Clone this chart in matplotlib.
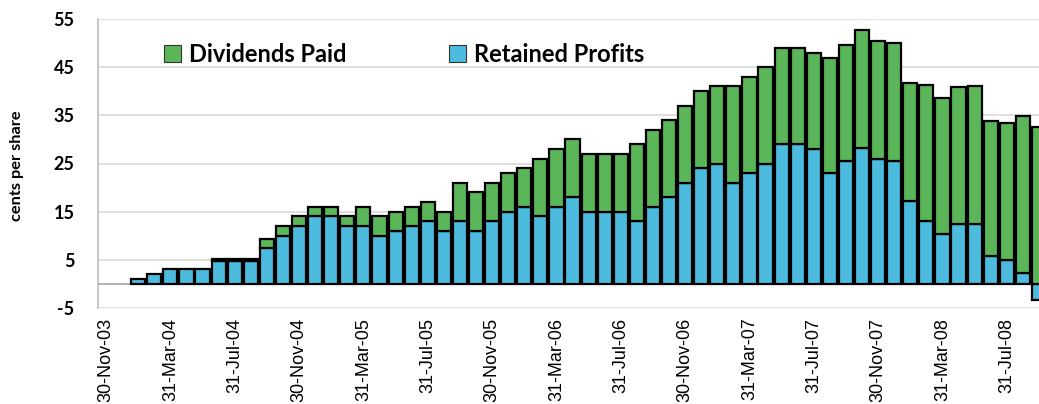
import matplotlib
matplotlib.use("Agg")
import matplotlib.pyplot as plt
from matplotlib.patches import Patch
import numpy as np

# Month-end categories, Nov-03 .. Sep-08
months = ["Nov-03", "Dec-03",
          "Jan-04", "Feb-04", "Mar-04", "Apr-04", "May-04", "Jun-04", "Jul-04", "Aug-04", "Sep-04", "Oct-04", "Nov-04", "Dec-04",
          "Jan-05", "Feb-05", "Mar-05", "Apr-05", "May-05", "Jun-05", "Jul-05", "Aug-05", "Sep-05", "Oct-05", "Nov-05", "Dec-05",
          "Jan-06", "Feb-06", "Mar-06", "Apr-06", "May-06", "Jun-06", "Jul-06", "Aug-06", "Sep-06", "Oct-06", "Nov-06", "Dec-06",
          "Jan-07", "Feb-07", "Mar-07", "Apr-07", "May-07", "Jun-07", "Jul-07", "Aug-07", "Sep-07", "Oct-07", "Nov-07", "Dec-07",
          "Jan-08", "Feb-08", "Mar-08", "Apr-08", "May-08", "Jun-08", "Jul-08", "Aug-08", "Sep-08"]

retained = [0, 0,
            1, 2, 3.2, 3.2, 3.2, 4.8, 4.8, 4.8, 7.4, 10, 12, 14,
            14, 12, 12, 10, 11, 12, 13, 11, 13, 11, 13, 15,
            16, 14, 16, 18, 15, 15, 15, 13, 16, 18, 21, 24,
            25, 21, 23, 25, 29, 29, 28, 23, 25.5, 28.3, 26, 25.5,
            17.3, 13, 10.3, 12.4, 12.5, 5.7, 5, 2.3, -3.4]

dividends = [0, 0,
             0, 0, 0, 0, 0, 0.4, 0.4, 0.4, 2, 2, 2, 2,
             2, 2, 4, 4, 4, 4, 4, 4, 8, 8, 8, 8,
             8, 12, 12, 12, 12, 12, 12, 16, 16, 16, 16, 16,
             16, 20, 20, 20, 20, 20, 20, 24, 24, 24.5, 24.5, 24.5,
             24.4, 28.4, 28.4, 28.4, 28.5, 28.2, 28.5, 32.5, 32.5]

tick_labels = ["30-Nov-03", "31-Mar-04", "31-Jul-04", "30-Nov-04", "31-Mar-05",
               "31-Jul-05", "30-Nov-05", "31-Mar-06", "31-Jul-06", "30-Nov-06",
               "31-Mar-07", "31-Jul-07", "30-Nov-07", "31-Mar-08", "31-Jul-08"]

y_ticks = [-5, 5, 15, 25, 35, 45, 55]

GREEN = "#5BB65A"
BLUE = "#4CBBDD"

fig = plt.figure(figsize=(10.39, 4.04), dpi=100)
ax = fig.add_axes([98 / 1039, 1 - 308 / 404, 1 - 98 / 1039, (308 - 19) / 404])

x = np.arange(len(months))
ret = np.array(retained, dtype=float)
div = np.array(dividends, dtype=float)
bottom_div = np.maximum(ret, 0)

mask = (ret != 0) | (div != 0)
ax.bar(x[mask], ret[mask], width=0.88, color=BLUE, edgecolor="black", linewidth=1.6, zorder=3)
dmask = div > 0
ax.bar(x[dmask], div[dmask], bottom=bottom_div[dmask], width=0.88, color=GREEN,
       edgecolor="black", linewidth=1.6, zorder=3)

ax.set_xlim(-0.5, len(months) - 1)
ax.set_ylim(-5, 55)
ax.set_yticks(y_ticks)
ax.set_yticklabels([str(v) for v in y_ticks], fontfamily="Lato", fontweight="bold", fontsize=13)
ax.yaxis.grid(True, color="#d9d9d9", linewidth=1.2, zorder=0)
ax.axhline(0, color="#a6a6a6", linewidth=1.2, zorder=2)

ax.set_xticks(np.arange(0, len(months), 4))
ax.set_xticklabels(tick_labels, rotation=90, fontfamily="Liberation Sans", fontsize=13,
                   va="top", ha="center")
ax.tick_params(axis="both", length=0)
ax.tick_params(axis="x", pad=7)
ax.tick_params(axis="y", pad=17)

for s in ["top", "right", "bottom"]:
    ax.spines[s].set_visible(False)
ax.spines["left"].set_color("#bfbfbf")
ax.spines["left"].set_linewidth(1.2)

fig.text(17 / 1039, 1 - 166 / 404, "cents per share", rotation=90, ha="center", va="center",
         fontfamily="Lato", fontweight="bold", fontsize=11.8)

handles = [Patch(facecolor=GREEN, edgecolor="#333333", linewidth=0.8),
           Patch(facecolor=BLUE, edgecolor="#333333", linewidth=0.8)]
leg = ax.legend(handles, ["Dividends Paid", "Retained Profits"], ncol=2, frameon=False,
                loc="center left",
                prop={"family": "Lato", "weight": "bold", "size": 17},
                handlelength=0.7, handleheight=0.7, handletextpad=0.35, columnspacing=4.35,
                borderaxespad=0, borderpad=0)
leg.set_bbox_to_anchor((164 / 1039, 1 - 54 / 404), transform=fig.transFigure)

fig.savefig("out.png", dpi=100)
